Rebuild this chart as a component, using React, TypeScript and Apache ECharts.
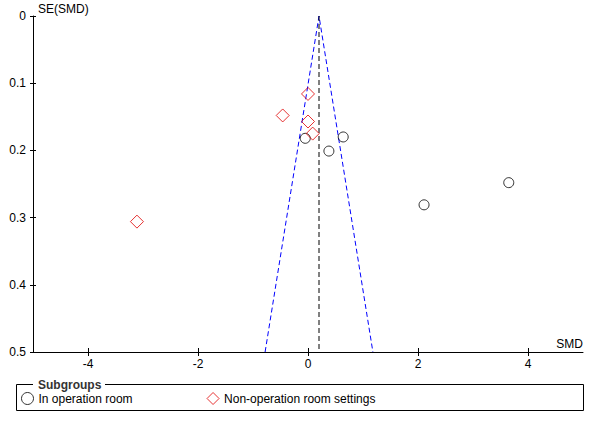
import React, { useEffect, useRef } from "react";
import * as echarts from "echarts";

const xTicks = [-4, -2, 0, 2, 4];
const yTicks = [0, 0.1, 0.2, 0.3, 0.4, 0.5];

// In operation room (circles): [SMD, SE]
const inRoomSMD = [-0.05, 0.64, 0.38, 2.11, 3.65];
const inRoomSE = [0.182, 0.18, 0.201, 0.281, 0.248];

// Non-operation room settings (diamonds)
const nonRoomSMD = [0.0, -0.46, 0.0, 0.085, -3.11];
const nonRoomSE = [0.116, 0.148, 0.157, 0.175, 0.306];

// Funnel
const pooledSMD = 0.2;
const funnelX = [-0.78, 0.2, 1.18];
const funnelY = [0.5, 0, 0.5];
const pooledLineY = [0, 0.5];

const FONT = "'Liberation Sans', Arial, sans-serif";

export default function App() {
  const ref = useRef<HTMLDivElement>(null);
  useEffect(() => {
    if (!ref.current) return;
    const chart = echarts.init(ref.current, null, { renderer: "svg" });
    const gridBox = { left: 33, top: 16, width: 550, height: 336, containLabel: false };
    const commonX = {
      type: "value",
      min: -5,
      max: 5,
      interval: 1,
      position: "bottom",
      splitLine: { show: false },
    };
    const commonY = {
      type: "value",
      min: 0,
      max: 0.5,
      interval: 0.1,
      inverse: true,
      position: "left",
      splitLine: { show: false },
    };
    chart.setOption({
      animation: false,
      backgroundColor: "#fff",
      textStyle: { fontFamily: FONT },
      grid: [gridBox, { ...gridBox }],
      xAxis: [
        {
          ...commonX,
          gridIndex: 0,
          axisLine: { show: true, onZero: false, lineStyle: { color: "#000", width: 1 } },
          axisTick: {
            show: true,
            inside: false,
            length: 4,
            lineStyle: { color: "#000" },
            customValues: xTicks,
          },
          axisLabel: {
            color: "#000",
            fontSize: 12,
            fontFamily: FONT,
            margin: 6,
            customValues: xTicks,
            formatter: (v: number) => String(v),
          },
        },
        {
          ...commonX,
          gridIndex: 1,
          axisLine: { show: false, onZero: false },
          axisTick: {
            show: true,
            inside: true,
            length: 4,
            lineStyle: { color: "#000" },
            customValues: xTicks,
          },
          axisLabel: { show: false },
        },
      ],
      yAxis: [
        {
          ...commonY,
          gridIndex: 0,
          axisLine: { show: true, onZero: false, lineStyle: { color: "#000", width: 1 } },
          axisTick: {
            show: true,
            inside: false,
            length: 3,
            lineStyle: { color: "#000" },
            customValues: yTicks,
          },
          axisLabel: {
            color: "#000",
            fontSize: 12,
            fontFamily: FONT,
            margin: 7,
            customValues: yTicks,
            formatter: (v: number) => {
              const r = Math.round(v * 10) / 10;
              return r === 0 ? "0" : String(r);
            },
          },
        },
        {
          ...commonY,
          gridIndex: 1,
          axisLine: { show: false, onZero: false },
          axisTick: {
            show: true,
            inside: true,
            length: 3,
            lineStyle: { color: "#000" },
            customValues: yTicks,
          },
          axisLabel: { show: false },
        },
      ],
      legend: {
        left: 21,
        top: 392,
        padding: 0,
        itemWidth: 12,
        itemHeight: 12,
        itemGap: 74,
        itemStyle: { borderWidth: 1 },
        textStyle: { color: "#000", fontSize: 12, fontFamily: FONT },
        data: ["In operation room", "Non-operation room settings"],
      },
      graphic: [
        {
          type: "rect",
          shape: { x: 16.5, y: 384.5, width: 567, height: 26 },
          style: { fill: "none", stroke: "#000", lineWidth: 1 },
          z: 1,
        },
        {
          type: "rect",
          shape: { x: 33, y: 378, width: 72, height: 12 },
          style: { fill: "#fff" },
          z: 2,
        },
        {
          type: "text",
          x: 38,
          y: 385,
          style: {
            text: "Subgroups",
            fill: "#333",
            font: `bold 12px ${FONT}`,
            verticalAlign: "middle",
          },
          z: 3,
        },
        {
          type: "text",
          x: 38,
          y: 9,
          style: {
            text: "SE(SMD)",
            fill: "#000",
            font: `12px ${FONT}`,
            verticalAlign: "middle",
          },
        },
        {
          type: "text",
          x: 583,
          y: 344,
          style: {
            text: "SMD",
            fill: "#000",
            font: `12px ${FONT}`,
            align: "right",
            verticalAlign: "middle",
          },
        },
      ],
      series: [
        {
          name: "Funnel",
          type: "line",
          data: funnelX.map((x, i) => [x, funnelY[i]]),
          symbol: "none",
          lineStyle: { color: "#0000ff", width: 1, type: [5, 3] },
          silent: true,
          z: 1,
        },
        {
          name: "Pooled",
          type: "line",
          data: pooledLineY.map((y) => [pooledSMD, y]),
          symbol: "none",
          lineStyle: { color: "#000", width: 1, type: [5, 3] },
          silent: true,
          z: 1,
        },
        {
          name: "In operation room",
          type: "scatter",
          data: inRoomSMD.map((x, i) => [x, inRoomSE[i]]),
          symbol: "circle",
          symbolSize: 10,
          itemStyle: { color: "rgba(255,255,255,0)", borderColor: "#000", borderWidth: 1 },
          z: 3,
        },
        {
          name: "Non-operation room settings",
          type: "scatter",
          data: nonRoomSMD.map((x, i) => [x, nonRoomSE[i]]),
          symbol: "diamond",
          symbolSize: 13,
          itemStyle: { color: "rgba(255,255,255,0)", borderColor: "#e00000", borderWidth: 1 },
          z: 4,
        },
      ],
    });
    return () => chart.dispose();
  }, []);
  return (
    <div
      ref={ref}
      style={{ position: "fixed", left: 0, top: 0, width: 600, height: 428, background: "#fff" }}
    />
  );
}
